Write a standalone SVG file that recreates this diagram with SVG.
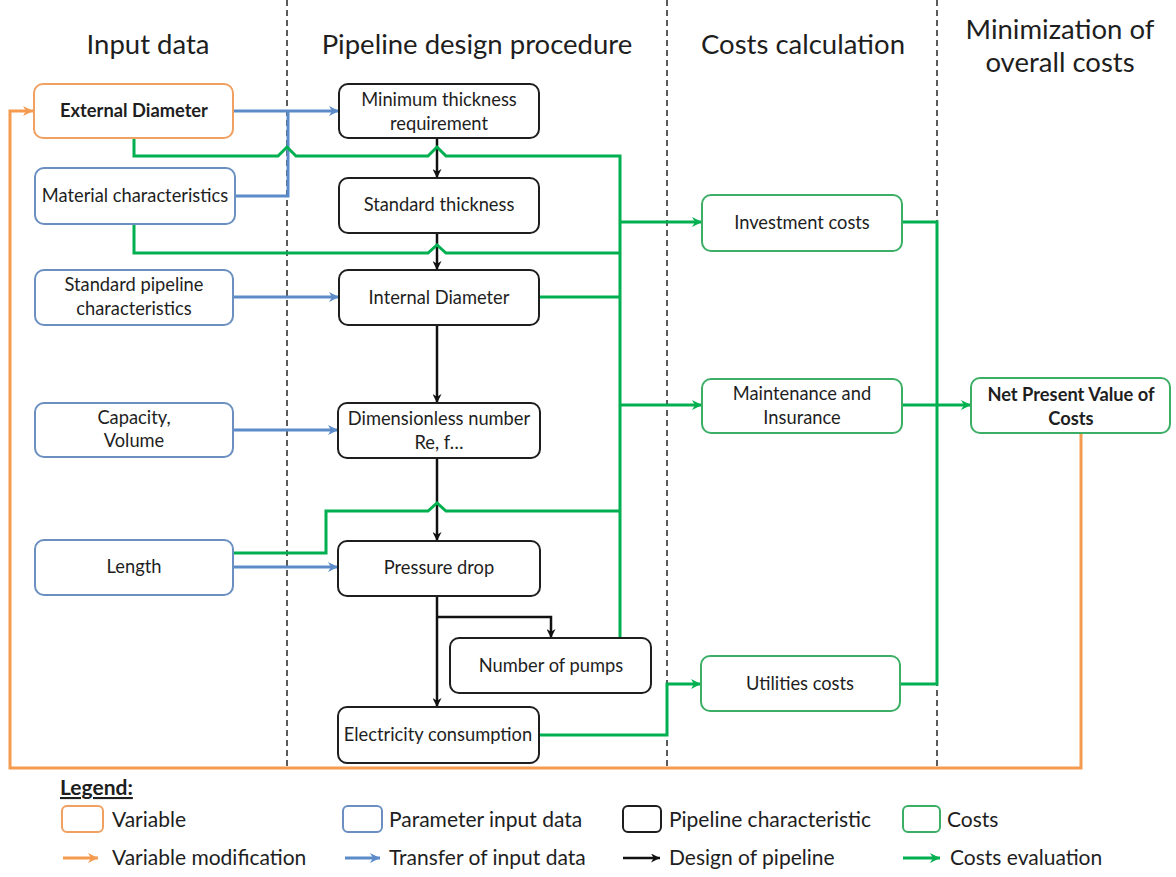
<svg xmlns="http://www.w3.org/2000/svg" width="1176" height="877" viewBox="0 0 1176 877">
<style>
text{font-family:Lato,"Liberation Sans",sans-serif;fill:#1e1e1e}
.h{font-size:27.5px;text-anchor:middle}
.n{font-size:18.3px;text-anchor:middle}
.b{font-weight:bold}
.lg{font-size:21px}
.box{fill:#fff;stroke-width:2}
.var{stroke:#F0A060}
.par{stroke:#6A8FC0}
.pip{stroke:#1e1e1e}
.cst{stroke:#3DAE66}
.dash{stroke:#333;stroke-width:1.6;stroke-dasharray:6 4;fill:none}
.cb{fill:none;stroke:#5B8BC9;stroke-width:3}
.cg{fill:none;stroke:#00B050;stroke-width:3;stroke-linejoin:miter}
.ck{fill:none;stroke:#111;stroke-width:2.5}
.co{fill:none;stroke:#F59B50;stroke-width:3}
</style>
<defs>
<marker id="ab" viewBox="0 0 10 10" refX="10" refY="5" markerWidth="11" markerHeight="10" markerUnits="userSpaceOnUse" orient="auto"><path d="M0,0 L10,5 L0,10 L3,5 z" fill="#5B8BC9"/></marker>
<marker id="ag" viewBox="0 0 10 10" refX="10" refY="5" markerWidth="11" markerHeight="10" markerUnits="userSpaceOnUse" orient="auto"><path d="M0,0 L10,5 L0,10 L3,5 z" fill="#00B050"/></marker>
<marker id="ak" viewBox="0 0 10 10" refX="10" refY="5" markerWidth="10" markerHeight="9" markerUnits="userSpaceOnUse" orient="auto"><path d="M0,0 L10,5 L0,10 L3,5 z" fill="#111"/></marker>
<marker id="ao" viewBox="0 0 10 10" refX="10" refY="5" markerWidth="11" markerHeight="10" markerUnits="userSpaceOnUse" orient="auto"><path d="M0,0 L10,5 L0,10 L3,5 z" fill="#F59B50"/></marker>
</defs>
<rect width="1176" height="877" fill="#fff"/>

<g id="lanes">
<line class="dash" x1="287" y1="0" x2="287" y2="768"/>
<line class="dash" x1="667" y1="0" x2="667" y2="768"/>
<line class="dash" x1="937" y1="0" x2="937" y2="768"/>
<text class="h" x="148" y="54">Input data</text>
<text class="h" x="477" y="54">Pipeline design procedure</text>
<text class="h" x="803" y="54">Costs calculation</text>
<text class="h" x="1060" y="39">Minimization of</text>
<text class="h" x="1060" y="72">overall costs</text>
</g>

<g id="connectors">
<path class="co" d="M1081,433 V768 H10 V111 H33" marker-end="url(#ao)"/>
<path class="cb" d="M233,111 H339" marker-end="url(#ab)"/>
<path class="cb" d="M235,196 H288 V111"/>
<path class="cb" d="M233,297 H339" marker-end="url(#ab)"/>
<path class="cb" d="M233,430 H338" marker-end="url(#ab)"/>
<path class="cb" d="M233,567 H338" marker-end="url(#ab)"/>
<path class="ck" d="M437,138 V178" marker-end="url(#ak)"/>
<path class="ck" d="M437,233 V270" marker-end="url(#ak)"/>
<path class="ck" d="M437,325 V403" marker-end="url(#ak)"/>
<path class="ck" d="M437,458 V541" marker-end="url(#ak)"/>
<path class="ck" d="M437,596 V707" marker-end="url(#ak)"/>
<path class="ck" d="M437,617 H551 V638" marker-end="url(#ak)"/>
<path class="cg" d="M134,138 V156 H278 L287,147 L296,156 H428 L437,147 L446,156 H620 V638"/>
<path class="cg" d="M134,224 V253 H428 L437,245 L446,253 H620"/>
<path class="cg" d="M539,297 H620"/>
<path class="cg" d="M233,553 H326 V511 H428 L437,503 L446,511 H620"/>
<path class="cg" d="M620,222 H702" marker-end="url(#ag)"/>
<path class="cg" d="M620,405 H702" marker-end="url(#ag)"/>
<path class="cg" d="M539,735 H667 V684 H701" marker-end="url(#ag)"/>
<path class="cg" d="M902,222 H937 V684 H900"/>
<path class="cg" d="M902,405 H971" marker-end="url(#ag)"/>
</g>

<g id="external-diameter"><rect class="box var" x="34" y="84" width="199" height="54" rx="9"/><text class="n b" x="134" y="117">External Diameter</text></g>
<g id="material-characteristics"><rect class="box par" x="35" y="168" width="200" height="56" rx="9"/><text class="n" x="135" y="202">Material characteristics</text></g>
<g id="standard-pipeline"><rect class="box par" x="35" y="270" width="198" height="55" rx="9"/><text class="n" x="134" y="291">Standard pipeline</text><text class="n" x="134" y="315">characteristics</text></g>
<g id="capacity-volume"><rect class="box par" x="35" y="403" width="198" height="54" rx="9"/><text class="n" x="134" y="424">Capacity,</text><text class="n" x="134" y="447">Volume</text></g>
<g id="length"><rect class="box par" x="35" y="540" width="198" height="55" rx="9"/><text class="n" x="134" y="573">Length</text></g>

<g id="min-thickness"><rect class="box pip" x="339" y="84" width="200" height="54" rx="9"/><text class="n" x="439" y="106">Minimum thickness</text><text class="n" x="439" y="130">requirement</text></g>
<g id="std-thickness"><rect class="box pip" x="339" y="178" width="200" height="55" rx="9"/><text class="n" x="439" y="211">Standard thickness</text></g>
<g id="internal-diameter"><rect class="box pip" x="339" y="270" width="200" height="55" rx="9"/><text class="n" x="439" y="304">Internal Diameter</text></g>
<g id="dimensionless"><rect class="box pip" x="338" y="403" width="202" height="55" rx="9"/><text class="n" x="439" y="425">Dimensionless number</text><text class="n" x="439" y="449">Re, f…</text></g>
<g id="pressure-drop"><rect class="box pip" x="338" y="541" width="202" height="55" rx="9"/><text class="n" x="439" y="574">Pressure drop</text></g>
<g id="number-of-pumps"><rect class="box pip" x="450" y="638" width="201" height="55" rx="9"/><text class="n" x="551" y="672">Number of pumps</text></g>
<g id="electricity"><rect class="box pip" x="338" y="707" width="201" height="56" rx="9"/><text class="n" x="438" y="741">Electricity consumption</text></g>

<g id="investment-costs"><rect class="box cst" x="702" y="195" width="200" height="56" rx="9"/><text class="n" x="802" y="229">Investment costs</text></g>
<g id="maintenance"><rect class="box cst" x="702" y="379" width="200" height="54" rx="9"/><text class="n" x="802" y="400">Maintenance and</text><text class="n" x="802" y="424">Insurance</text></g>
<g id="utilities-costs"><rect class="box cst" x="701" y="656" width="199" height="55" rx="9"/><text class="n" x="800" y="690">Utilities costs</text></g>
<g id="npv"><rect class="box cst" x="971" y="378" width="199" height="55" rx="9"/><text class="n b" x="1071" y="401">Net Present Value of</text><text class="n b" x="1071" y="425">Costs</text></g>

<g id="legend">
<text class="lg b" x="60" y="795" text-decoration="underline">Legend:</text>
<rect class="box var" x="62" y="806" width="41" height="26" rx="5"/><text class="lg" x="112" y="827">Variable</text>
<rect class="box par" x="343" y="806" width="39" height="26" rx="5"/><text class="lg" x="389" y="827">Parameter input data</text>
<rect class="box pip" x="623" y="806" width="38" height="26" rx="5"/><text class="lg" x="669" y="827">Pipeline characteristic</text>
<rect class="box cst" x="903" y="806" width="37" height="26" rx="5"/><text class="lg" x="947" y="827">Costs</text>
<path class="co" d="M63,858 H98" marker-end="url(#ao)"/><text class="lg" x="112" y="865">Variable modification</text>
<path class="cb" d="M345,858 H380" marker-end="url(#ab)"/><text class="lg" x="389" y="865">Transfer of input data</text>
<path class="ck" d="M623,858 H660" marker-end="url(#ak)"/><text class="lg" x="669" y="865">Design of pipeline</text>
<path class="cg" d="M903,858 H940" marker-end="url(#ag)"/><text class="lg" x="950" y="865">Costs evaluation</text>
</g>
</svg>
